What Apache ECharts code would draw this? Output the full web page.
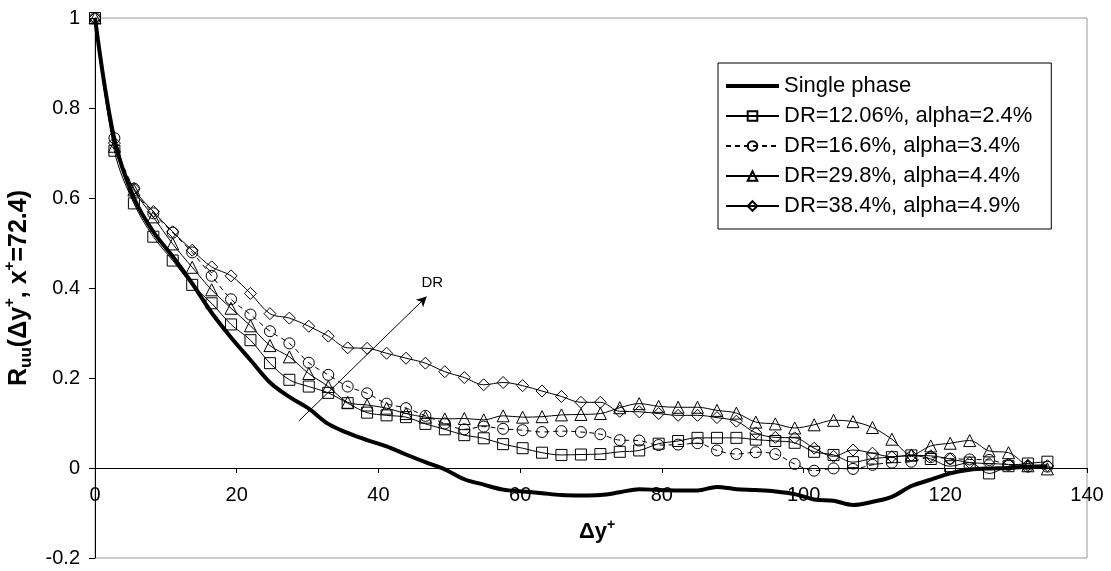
<!DOCTYPE html>
<html>
<head>
<meta charset="utf-8">
<script src="https://cdn.jsdelivr.net/npm/echarts@6/dist/echarts.min.js"></script>
<style>
html,body{margin:0;padding:0;background:#fff;}
#chart{width:1111px;height:571px;}
</style>
</head>
<body>
<div id="chart"></div>
<script>
// ---- data ----
const xValues = [0, 2.74, 5.49, 8.23, 10.97, 13.72, 16.46, 19.20, 21.94, 24.69,
  27.43, 30.17, 32.92, 35.66, 38.40, 41.15, 43.89, 46.63, 49.37, 52.12,
  54.86, 57.60, 60.35, 63.09, 65.83, 68.58, 71.32, 74.06, 76.80, 79.55,
  82.29, 85.03, 87.78, 90.52, 93.26, 96.01, 98.75, 101.49, 104.23, 106.98,
  109.72, 112.46, 115.21, 117.95, 120.69, 123.44, 126.18, 128.92, 131.66, 134.41];

const singlePhase = [1.0, 0.73, 0.60, 0.525, 0.47, 0.41, 0.345, 0.29, 0.24, 0.19,
  0.158, 0.132, 0.098, 0.078, 0.062, 0.048, 0.03, 0.013, -0.003, -0.025,
  -0.037, -0.048, -0.052, -0.056, -0.060, -0.061, -0.060, -0.054, -0.047, -0.049,
  -0.050, -0.050, -0.042, -0.047, -0.049, -0.052, -0.058, -0.070, -0.073, -0.082,
  -0.075, -0.064, -0.040, -0.026, -0.012, -0.004, -0.001, 0.0, 0.003, 0.004];

const dr1206 = [1.0, 0.705, 0.588, 0.514, 0.461, 0.407, 0.366, 0.319, 0.284, 0.233,
  0.196, 0.181, 0.167, 0.144, 0.123, 0.117, 0.113, 0.098, 0.086, 0.073,
  0.066, 0.053, 0.044, 0.034, 0.029, 0.030, 0.031, 0.036, 0.039, 0.054,
  0.060, 0.067, 0.067, 0.067, 0.063, 0.060, 0.056, 0.036, 0.029, 0.013,
  0.021, 0.024, 0.028, 0.020, 0.004, 0.012, -0.012, 0.004, 0.010, 0.014];

const dr166 = [1.0, 0.733, 0.621, 0.566, 0.523, 0.479, 0.427, 0.375, 0.341, 0.304,
  0.277, 0.234, 0.207, 0.181, 0.166, 0.143, 0.133, 0.116, 0.099, 0.086,
  0.092, 0.087, 0.084, 0.080, 0.082, 0.080, 0.075, 0.062, 0.061, 0.051,
  0.052, 0.055, 0.039, 0.031, 0.035, 0.031, 0.009, -0.006, -0.001, -0.002,
  0.007, 0.012, 0.014, 0.024, 0.021, 0.019, 0.018, 0.007, 0.003, 0.003];

const dr298 = [1.0, 0.715, 0.618, 0.558, 0.498, 0.446, 0.396, 0.355, 0.316, 0.272,
  0.247, 0.210, 0.181, 0.146, 0.140, 0.133, 0.121, 0.113, 0.109, 0.110,
  0.107, 0.116, 0.113, 0.114, 0.118, 0.119, 0.121, 0.134, 0.143, 0.137,
  0.135, 0.135, 0.128, 0.122, 0.102, 0.098, 0.089, 0.096, 0.106, 0.103,
  0.090, 0.064, 0.029, 0.049, 0.055, 0.061, 0.038, 0.034, 0.005, -0.002];

const dr384 = [1.0, 0.722, 0.621, 0.570, 0.525, 0.484, 0.447, 0.427, 0.388, 0.343,
  0.333, 0.315, 0.293, 0.267, 0.266, 0.255, 0.244, 0.233, 0.214, 0.201,
  0.185, 0.190, 0.183, 0.171, 0.159, 0.146, 0.146, 0.126, 0.125, 0.121,
  0.117, 0.117, 0.112, 0.104, 0.078, 0.068, 0.067, 0.044, 0.026, 0.040,
  0.033, 0.025, 0.028, 0.027, 0.020, 0.012, 0.010, 0.008, 0.006, 0.005];

const seriesNames = ['Single phase', 'DR=12.06%, alpha=2.4%', 'DR=16.6%, alpha=3.4%',
  'DR=29.8%, alpha=4.4%', 'DR=38.4%, alpha=4.9%'];

const xTicks = { min: 0, max: 140, interval: 20 };
const yTicks = { min: -0.2, max: 1, interval: 0.2 };

const arrowStart = [28.8, 0.105];
const arrowEnd = [46.8, 0.381];
const drLabelPos = [47.6, 0.411];

// ---- chart ----
const FONT = 'Liberation Sans, Arial, sans-serif';
const pair = ys => xValues.map((x, i) => [x, ys[i]]);

const GRID = { left: 95, right: 24, top: 18, bottom: 13 };
const gridHeight = 571 - GRID.top - GRID.bottom;
// move the x axis (line, ticks, labels, name) up to y = 0
const xAxisOffset = -gridHeight * (0 - yTicks.min) / (yTicks.max - yTicks.min);

function markerSeries(name, ys, symbol, size, dashed) {
  return {
    name: name,
    type: 'line',
    data: pair(ys),
    smooth: 0.35,
    symbol: symbol,
    symbolSize: size,
    showAllSymbol: true,
    lineStyle: { color: '#000', width: 1, type: dashed ? [5, 4] : 'solid' },
    itemStyle: { color: 'rgba(255,255,255,0)', borderColor: '#000', borderWidth: 1 },
    emphasis: { disabled: true },
    z: 3
  };
}

const chart = echarts.init(document.getElementById('chart'), null, { renderer: 'canvas' });

const option = {
  animation: false,
  backgroundColor: '#fff',
  grid: {
    left: GRID.left, right: GRID.right, top: GRID.top, bottom: GRID.bottom,
    outerBoundsMode: 'none',
    containLabel: false,
    show: true, borderColor: '#9a9a9a', borderWidth: 1, backgroundColor: 'transparent'
  },
  legend: {
    orient: 'vertical',
    left: 718, top: 63,
    padding: [12, 19, 12, 7],
    itemWidth: 53, itemHeight: 12, itemGap: 8,
    backgroundColor: '#fff',
    borderColor: '#000', borderWidth: 1, borderRadius: 0,
    textStyle: { fontFamily: FONT, fontSize: 22, color: '#000' },
    data: [
      { name: seriesNames[0], icon: 'path://M0,0 L53,0 L53,4 L0,4 Z', itemStyle: { color: '#000' } },
      seriesNames[1], seriesNames[2], seriesNames[3], seriesNames[4]
    ]
  },
  xAxis: {
    type: 'value',
    min: xTicks.min, max: xTicks.max, interval: xTicks.interval,
    offset: xAxisOffset,
    name: '{b|Δy}{s|+}',
    nameLocation: 'middle',
    nameGap: 50,
    nameTextStyle: {
      padding: [0, 0, 0, 12],
      rich: {
        b: { fontFamily: FONT, fontSize: 22, fontWeight: 'bold', color: '#000', lineHeight: 28 },
        s: { fontFamily: FONT, fontSize: 14, fontWeight: 'bold', color: '#000', verticalAlign: 'top', lineHeight: 14 }
      }
    },
    axisLine: { onZero: false, lineStyle: { color: '#000', width: 1 } },
    axisTick: { show: true, length: 5, lineStyle: { color: '#000' } },
    axisLabel: { fontFamily: FONT, fontSize: 20, color: '#000', margin: 17 },
    splitLine: { show: false }
  },
  yAxis: {
    type: 'value',
    min: yTicks.min, max: yTicks.max, interval: yTicks.interval,
    name: '{b|R}{u|uu}{b|(Δy}{s|+}{b|, x}{s|+}{b|=72.4)}',
    nameLocation: 'middle',
    nameGap: 50,
    nameRotate: 90,
    nameTextStyle: {
      padding: [0, 0, 0, 0],
      rich: {
        b: { fontFamily: FONT, fontSize: 25, fontWeight: 'bold', color: '#000', lineHeight: 32 },
        u: { fontFamily: FONT, fontSize: 17, fontWeight: 'bold', color: '#000', verticalAlign: 'bottom', lineHeight: 22 },
        s: { fontFamily: FONT, fontSize: 15, fontWeight: 'bold', color: '#000', verticalAlign: 'top', lineHeight: 15 }
      }
    },
    axisLine: { show: true, lineStyle: { color: '#000', width: 1 } },
    axisTick: { show: true, length: 6, lineStyle: { color: '#000' } },
    axisLabel: {
      fontFamily: FONT, fontSize: 20, color: '#000', margin: 15,
      formatter: v => String(+v.toFixed(1))
    },
    splitLine: { show: false }
  },
  series: [
    {
      name: seriesNames[0],
      type: 'line',
      data: pair(singlePhase),
      smooth: 0.35,
      symbol: 'none',
      lineStyle: { color: '#000', width: 4 },
      itemStyle: { color: '#000' },
      emphasis: { disabled: true },
      z: 4,
      markLine: {
        silent: true,
        symbol: ['none', 'arrow'],
        symbolSize: [8, 10],
        lineStyle: { color: '#000', width: 1, type: 'solid' },
        label: { show: false },
        data: [[{ coord: arrowStart }, { coord: arrowEnd }]]
      },
      markPoint: {
        silent: true,
        symbol: 'circle',
        symbolSize: 1,
        itemStyle: { color: 'rgba(0,0,0,0)' },
        label: { show: true, position: 'inside', formatter: 'DR', fontFamily: FONT, fontSize: 15, color: '#000' },
        data: [{ coord: drLabelPos }]
      }
    },
    markerSeries(seriesNames[1], dr1206, 'rect', 11, false),
    markerSeries(seriesNames[2], dr166, 'circle', 11, true),
    markerSeries(seriesNames[3], dr298, 'triangle', 12, false),
    markerSeries(seriesNames[4], dr384, 'diamond', 12, false)
  ]
};
chart.setOption(option);
</script>
</body>
</html>
